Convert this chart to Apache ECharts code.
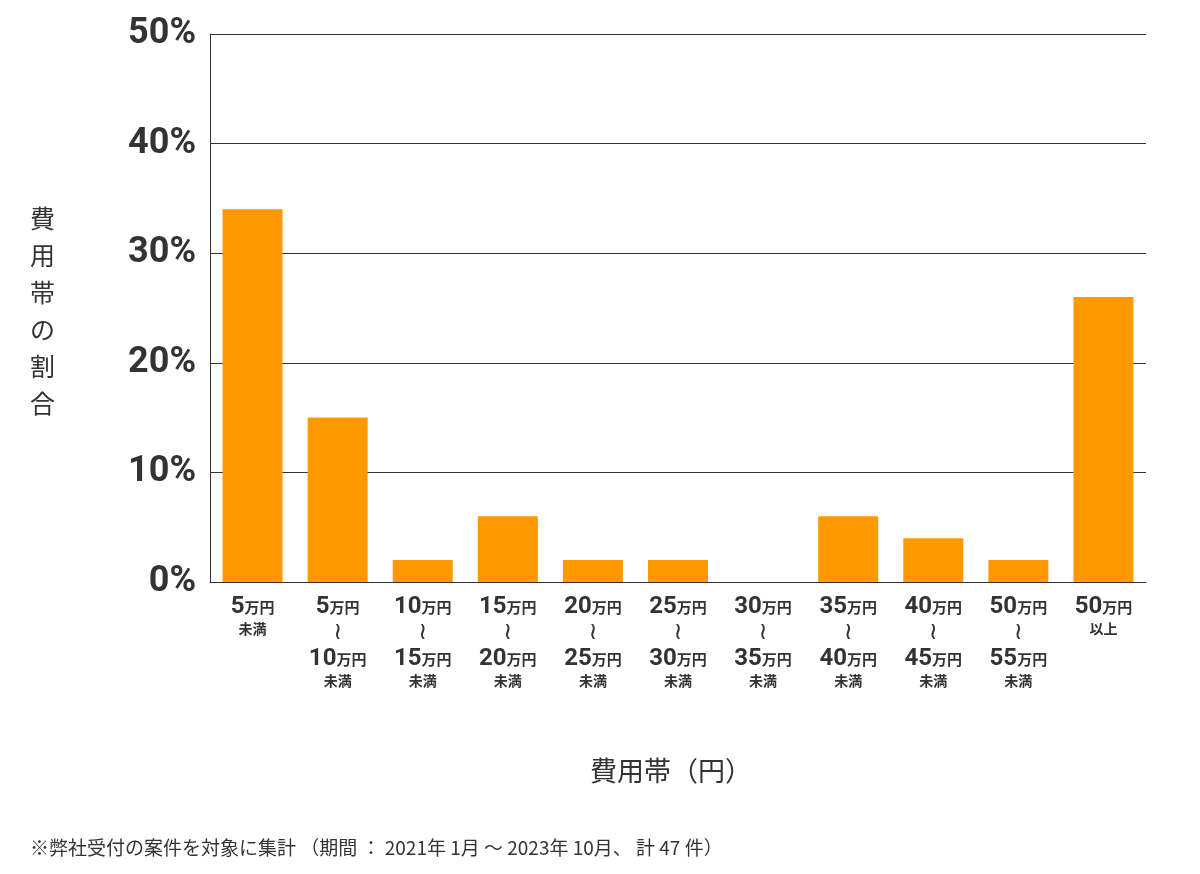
<!DOCTYPE html>
<html><head><meta charset="utf-8">
<script src="https://cdn.jsdelivr.net/npm/echarts@6/dist/echarts.min.js"></script>
<style>html,body{margin:0;background:#fff}#c{width:1200px;height:874px}</style>
</head><body><div id="c"></div>
<script>
const lowers = ['', '5', '10', '15', '20', '25', '30', '35', '40', '50', '50'];
const uppers = ['5', '10', '15', '20', '25', '30', '35', '40', '45', '55', ''];
const values = [34, 15, 2, 6, 2, 2, 0, 6, 4, 2, 26];
const yTicks = [0, 10, 20, 30, 40, 50];
const categories = lowers.map((l, i) => i);
function fmt(i) {
  i = +i;
  if (i === 0) return '{n|' + uppers[i] + '}{u|万円}\n{s|未満}';
  if (i === 10) return '{n|' + lowers[i] + '}{u|万円}\n{s|以上}';
  return '{n|' + lowers[i] + '}{u|万円}\n{t|≀}\n{n|' + uppers[i] + '}{u|万円}\n{s|未満}';
}
const FF = '"Noto Sans CJK JP", "Noto Sans", sans-serif';
const chart = echarts.init(document.getElementById('c'));
chart.setOption({
  animation: false,
  textStyle: { fontFamily: FF },
  grid: { left: 210, right: 54, top: 34, bottom: 292 },
  xAxis: {
    type: 'category', data: categories,
    axisTick: { show: false },
    axisLine: { lineStyle: { color: '#333', width: 1 } },
    axisLabel: {
      interval: 0, margin: 12, formatter: fmt, color: '#333', lineHeight: 26,
      rich: {
        n: { fontSize: 24, fontWeight: 'bold', color: '#333', fontFamily: 'Roboto', lineHeight: 26 },
        u: { fontSize: 15, fontWeight: 'bold', color: '#333', lineHeight: 26 },
        s: { fontSize: 14, fontWeight: 'bold', color: '#333', lineHeight: 18 },
        t: { fontSize: 24, color: '#333', lineHeight: 26, fontFamily: 'DejaVu Sans' }
      }
    }
  },
  yAxis: {
    type: 'value', min: 0, max: 50, interval: 10,
    axisLine: { show: true, lineStyle: { color: '#333' } },
    axisTick: { show: false },
    splitLine: { lineStyle: { color: '#333', width: 1 } },
    axisLabel: { formatter: v => v + '%', fontSize: 36, fontWeight: 'bold', color: '#333', margin: 14, fontFamily: 'Roboto' }
  },
  series: [{ type: 'bar', data: values, barWidth: 60, itemStyle: { color: '#ff9900' } }],
  graphic: [
    { type: 'text', left: 30, top: 200, style: { text: '費\n用\n帯\nの\n割\n合', fontSize: 25, lineHeight: 37, fill: '#333', fontFamily: FF } },
    { type: 'text', left: 590, top: 757, style: { text: '費用帯（円）', fontSize: 27, fill: '#333', fontFamily: FF } },
    { type: 'text', left: 30, top: 838, style: { text: '※弊社受付の案件を対象に集計 （期間 ： 2021年 1月 ～ 2023年 10月、 計 47 件）', fontSize: 19, fill: '#333', fontFamily: FF } }
  ]
});
</script></body></html>
